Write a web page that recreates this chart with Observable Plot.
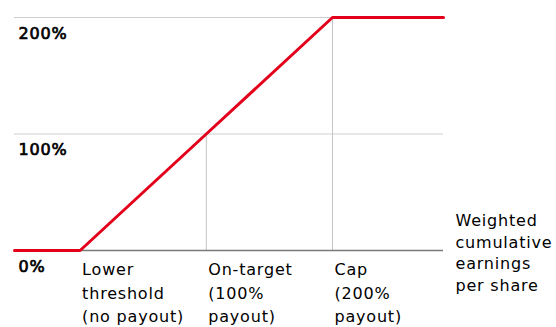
<!DOCTYPE html>
<html>
<head>
<meta charset="utf-8">
<script src="https://cdn.jsdelivr.net/npm/d3@7"></script>
<script src="https://cdn.jsdelivr.net/npm/@observablehq/plot@0.6"></script>
<style>
  html, body { margin: 0; padding: 0; background: #fff; }
  #chart svg { display: block; }
</style>
</head>
<body>
<div id="chart"></div>
<script>
// Vesting curve: payout (% of target) against weighted cumulative EPS
const epsPoints = [0, 0.52, 1.52, 2.52, 3.4];      // start, threshold, target, cap, end
const payoutPoints = [0, 0, 100, 200, 200];          // payout in %

// Milestones on the EPS axis
const milestoneEps = [0.52, 1.52, 2.52];
const milestonePayout = [0, 100, 200];
const milestoneLabels = ["Lower\nthreshold\n(no payout)", "On-target\n(100%\npayout)", "Cap\n(200%\npayout)"];

// Payout axis ticks
const payoutTicks = [0, 100, 200];
const payoutTickLabels = ["0%", "100%", "200%"];

const axisTitle = "Weighted\ncumulative\nearnings\nper share";

const curve = epsPoints.map((x, i) => ({x, y: payoutPoints[i]}));
const milestones = milestoneEps.map((x, i) => ({x, y: milestonePayout[i], label: milestoneLabels[i]}));
const ticks = payoutTicks.map((y, i) => ({y, label: payoutTickLabels[i]}));

const xMin = epsPoints[0], xMax = epsPoints[epsPoints.length - 1];
const font = "'DejaVu Sans', Verdana, sans-serif";

const chart = Plot.plot({
  width: 556,
  height: 327,
  marginLeft: 14,
  marginRight: 113,
  marginTop: 17,
  marginBottom: 77,
  style: {fontFamily: font, fontSize: "16px", letterSpacing: "0.8px", color: "#000", background: "#fff"},
  x: {domain: [xMin, xMax], axis: null},
  y: {domain: [0, 200], axis: null},
  marks: [
    // horizontal gridlines
    Plot.ruleY(payoutTicks.filter(d => d > 0), {x1: xMin, x2: xMax, stroke: "#cfcfcf", strokeWidth: 1}),
    // vertical guides from the baseline up to the curve
    Plot.ruleX(milestones.filter(d => d.y > 0), {x: "x", y1: 0, y2: "y", stroke: "#c4c4c4", strokeWidth: 1}),
    // baseline
    Plot.ruleY([0], {x1: xMin, x2: xMax, stroke: "#7a7a7a", strokeWidth: 1.5}),
    // payout curve
    Plot.line(curve, {x: "x", y: "y", stroke: "#e3001b", strokeWidth: 3, strokeLinejoin: "miter"}),
    // payout tick labels (medium weight: regular face with a thin outline)
    Plot.text(ticks, {
      x: xMin, y: "y", text: "label", textAnchor: "start", lineAnchor: "top",
      dx: 4, dy: 10, fontSize: 16, fill: "#000", stroke: "#000", strokeWidth: 0.7
    }),
    // milestone labels
    Plot.text(milestones, {
      x: "x", y: 0, text: "label", textAnchor: "start", lineAnchor: "top",
      dx: 2, dy: 8, fontSize: 16, lineHeight: 1.47, fill: "#000"
    }),
    // x-axis title at the right end
    Plot.text([axisTitle], {
      x: xMax, y: 0, text: d => d, textAnchor: "start", lineAnchor: "middle",
      dx: 12, dy: 1, fontSize: 16, lineHeight: 1.35, fill: "#000"
    })
  ]
});

document.getElementById("chart").append(chart);
</script>
</body>
</html>
